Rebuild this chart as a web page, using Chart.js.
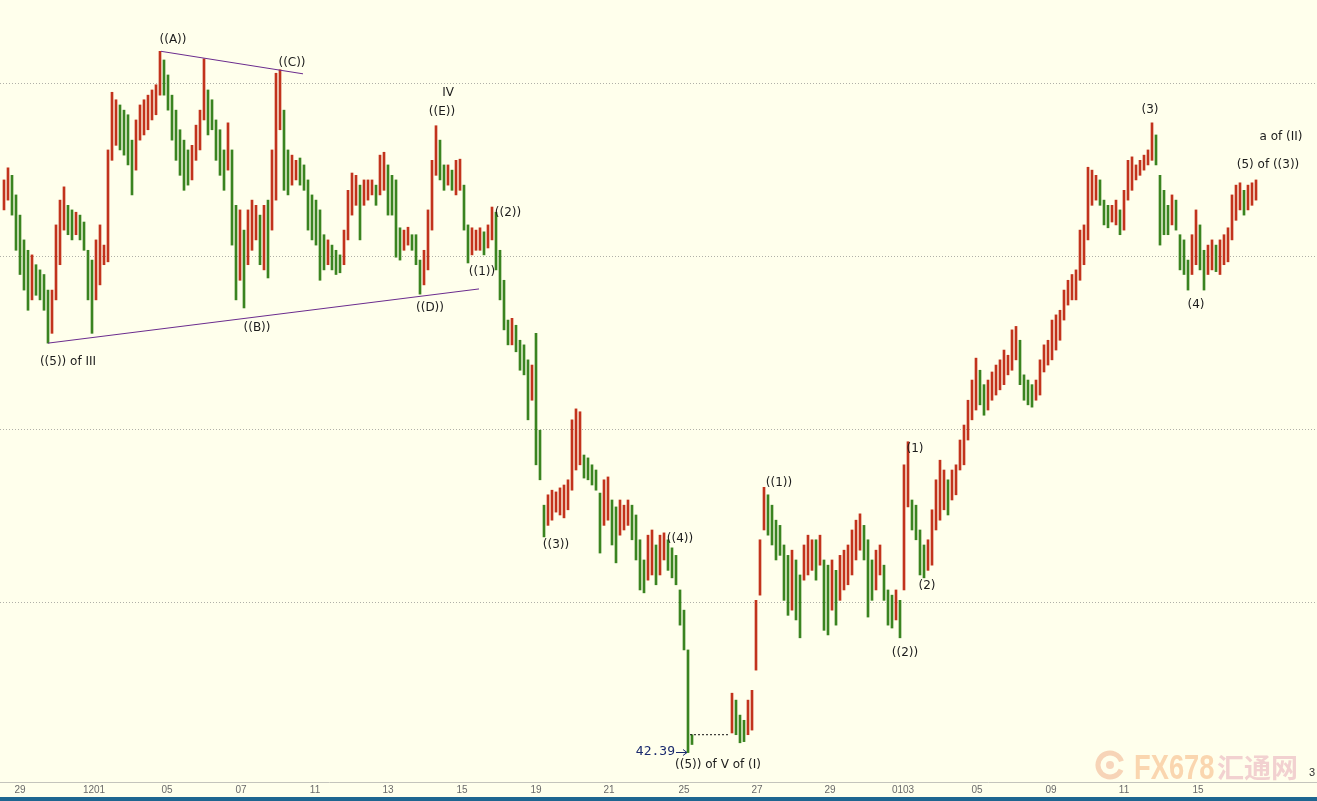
<!DOCTYPE html>
<html>
<head>
<meta charset="utf-8">
<script src="https://cdn.jsdelivr.net/npm/chart.js@4.4.1/dist/chart.umd.min.js"></script>
<style>
  body { margin: 0; background: #ffffec; }
  #box { width: 1317px; height: 801px; }
</style>
</head>
<body>
<div id="box"><canvas id="myChart" width="1317" height="801"></canvas></div>
<script>
// bar highs / lows, one bar per slot (null = no trading, Christmas gap)
let highs = [
    52.32, 52.53, 52.40, 52.06, 51.71, 51.28, 51.10, 51.02, 50.85, 50.76,
    50.68, 50.41, 50.41, 51.54, 51.97, 52.20, 51.88, 51.80, 51.76, 51.71,
    51.59, 51.10, 50.93, 51.28, 51.54, 51.19, 52.84, 53.84, 53.71, 53.62,
    53.53, 53.45, 53.01, 53.36, 53.62, 53.71, 53.79, 53.88, 53.97, 54.55,
    54.40, 54.14, 53.79, 53.53, 53.19, 53.01, 52.84, 52.92, 53.27, 53.53,
    54.42, 53.88, 53.71, 53.36, 53.19, 52.84, 53.31, 52.84, 51.88, 51.80,
    51.45, 51.80, 51.97, 51.88, 51.71, 51.88, 51.97, 52.84, 54.17, 54.23,
    53.53, 52.84, 52.75, 52.66, 52.70, 52.58, 52.32, 52.06, 51.97, 51.80,
    51.37, 51.28, 51.19, 51.10, 51.02, 51.45, 52.14, 52.44, 52.40, 52.23,
    52.32, 52.32, 52.32, 52.23, 52.75, 52.80, 52.58, 52.40, 52.32, 51.49,
    51.45, 51.50, 51.37, 51.37, 50.93, 51.10, 51.80, 52.66, 53.26, 53.01,
    52.58, 52.58, 52.49, 52.66, 52.68, 52.23, 51.54, 51.49, 51.45, 51.49,
    51.42, 51.54, 51.85, 51.76, 51.10, 50.58, 49.89, 49.92, 49.80, 49.54,
    49.46, 49.20, 49.11, 49.66, 47.98, 46.68, 46.86, 46.94, 46.91, 46.98,
    47.03, 47.12, 48.16, 48.35, 48.30, 47.55, 47.50, 47.38, 47.29, 46.89,
    47.12, 47.17, 46.77, 46.65, 46.77, 46.68, 46.77, 46.68, 46.51, 46.08,
    45.73, 46.16, 46.25, 45.99, 46.16, 46.20, 46.08, 45.94, 45.81, 45.21,
    44.86, 44.17, 42.70, null, null, null, null, null, null, null,
    null, null, 43.42, 43.30, 43.04, 42.95, 43.30, 43.47, 45.03, 46.08,
    46.99, 46.86, 46.68, 46.42, 46.33, 45.99, 45.81, 45.90, 45.73, 45.47,
    45.99, 46.16, 46.08, 46.08, 46.16, 45.73, 45.64, 45.73, 45.55, 45.81,
    45.90, 45.99, 46.25, 46.42, 46.53, 46.33, 46.08, 45.73, 45.90, 45.99,
    45.64, 45.21, 45.12, 45.21, 45.03, 47.38, 47.78, 46.77, 46.68, 46.25,
    45.99, 46.08, 46.60, 47.12, 47.46, 47.29, 47.12, 47.29, 47.38, 47.81,
    48.07, 48.50, 48.85, 49.23, 49.02, 48.77, 48.85, 48.99, 49.11, 49.20,
    49.37, 49.28, 49.72, 49.78, 49.54, 48.94, 48.85, 48.77, 48.85, 49.20,
    49.46, 49.54, 49.89, 49.98, 50.06, 50.41, 50.58, 50.68, 50.76, 51.45,
    51.54, 52.54, 52.49, 52.40, 52.32, 51.97, 51.88, 51.88, 51.97, 51.80,
    52.14, 52.66, 52.72, 52.58, 52.66, 52.75, 52.84, 53.31, 53.10, 52.40,
    52.14, 51.88, 52.06, 51.97, 51.37, 51.28, 50.93, 51.37, 51.80, 51.54,
    51.10, 51.19, 51.28, 51.19, 51.28, 51.37, 51.49, 52.06, 52.23, 52.27,
    52.14, 52.23, 52.27, 52.32
];
let lows = [
    51.80, 51.97, 51.71, 51.10, 50.68, 50.41, 50.06, 50.24, 50.32, 50.24,
    50.06, 49.49, 49.66, 50.24, 50.85, 51.45, 51.37, 51.28, 51.37, 51.28,
    51.10, 50.24, 49.66, 50.24, 50.50, 50.85, 50.90, 52.66, 52.92, 52.84,
    52.75, 52.58, 52.06, 52.49, 53.01, 53.10, 53.19, 53.36, 53.45, 53.79,
    53.79, 53.53, 53.01, 52.66, 52.40, 52.14, 52.23, 52.32, 52.66, 52.84,
    53.36, 53.10, 53.19, 52.66, 52.40, 52.14, 52.49, 51.19, 50.24, 50.58,
    50.10, 50.85, 51.10, 51.28, 50.85, 50.76, 50.62, 51.45, 51.97, 53.19,
    52.14, 52.06, 52.23, 52.32, 52.23, 52.14, 51.45, 51.28, 51.19, 50.58,
    50.76, 50.85, 50.76, 50.68, 50.71, 50.85, 51.28, 51.71, 51.88, 51.28,
    51.88, 51.97, 52.06, 51.88, 52.06, 52.14, 51.71, 51.71, 50.98, 50.93,
    51.10, 51.19, 51.10, 50.85, 50.34, 50.50, 50.76, 51.45, 52.40, 52.32,
    52.14, 52.23, 52.14, 52.06, 52.14, 51.45, 50.88, 51.02, 51.10, 51.10,
    51.02, 51.14, 51.28, 50.76, 50.24, 49.72, 49.46, 49.46, 49.34, 49.02,
    48.94, 48.16, 48.50, 47.38, 47.12, 46.13, 46.33, 46.42, 46.56, 46.51,
    46.46, 46.60, 46.94, 47.29, 47.38, 47.15, 47.12, 47.03, 46.94, 45.85,
    46.33, 46.42, 45.99, 45.68, 46.16, 46.25, 46.33, 46.08, 45.73, 45.21,
    45.16, 45.38, 45.47, 45.30, 45.47, 45.73, 45.55, 45.42, 45.30, 44.60,
    44.17, 42.39, 42.53, null, null, null, null, null, null, null,
    null, null, 42.73, 42.70, 42.56, 42.58, 42.70, 42.78, 43.82, 45.12,
    46.25, 46.16, 45.99, 45.73, 45.81, 45.03, 44.77, 44.86, 44.69, 44.38,
    45.38, 45.47, 45.55, 45.38, 45.64, 44.51, 44.43, 44.86, 44.60, 45.03,
    45.21, 45.30, 45.47, 45.73, 45.90, 45.73, 44.74, 45.03, 45.21, 45.47,
    45.03, 44.60, 44.55, 44.69, 44.38, 45.21, 46.65, 46.25, 46.08, 45.47,
    45.42, 45.55, 45.64, 46.25, 46.42, 46.60, 46.51, 46.77, 46.86, 47.29,
    47.38, 47.81, 48.16, 48.33, 48.42, 48.24, 48.33, 48.50, 48.59, 48.68,
    48.77, 48.94, 49.02, 49.20, 48.77, 48.50, 48.42, 48.38, 48.50, 48.59,
    48.99, 49.11, 49.20, 49.37, 49.54, 49.89, 50.15, 50.24, 50.24, 50.58,
    50.85, 51.28, 51.88, 51.97, 51.88, 51.54, 51.49, 51.59, 51.54, 51.37,
    51.45, 51.97, 52.14, 52.32, 52.40, 52.49, 52.58, 52.66, 52.58, 51.19,
    51.37, 51.37, 51.54, 51.45, 50.76, 50.68, 50.41, 50.68, 50.85, 50.76,
    50.41, 50.68, 50.76, 50.73, 50.68, 50.85, 50.90, 51.28, 51.62, 51.80,
    51.71, 51.80, 51.88, 51.97
];

// date labels on the time axis (slot positions)
let tickPos = [4, 22.5, 40.75, 59.25, 77.75, 96, 114.5, 133, 151.25, 170, 188.25, 206.5, 224.75, 243.25, 261.75, 280, 298.5];
let tickLabels = ['29', '1201', '05', '07', '11', '13', '15', '19', '21', '25', '27', '29', '0103', '05', '09', '11', '15'];
let gridVals = [45, 48, 51, 54];

// triangle lines ((A))-((C)) and ((5))-((D))
let upperLine = [{ x: 39.25, y: 54.55 }, { x: 74.75, y: 54.16 }];
let lowerLine = [{ x: 11, y: 49.49 }, { x: 118.75, y: 50.43 }];
let lowMark = [{ x: 171.5, y: 42.70 }, { x: 181.5, y: 42.70 }];

// wave labels
let annTexts = ['((A))', '((C))', '((5)) of III', '((B))', 'IV', '((E))', '((D))', '((1))', '((2))',
    '((3))', '((4))', '((5)) of V of (I)', '((1))', '((2))', '(1)', '(2)', '(3)', '(4)', 'a of (II)', '(5) of ((3))'];
let annX = [42.25, 72, 16, 63.25, 111, 109.5, 106.5, 119.5, 126,
    138, 169, 178.5, 193.75, 225.25, 227.75, 230.75, 286.5, 298, 319.25, 316];
let annY = [54.75, 54.35, 49.16, 49.75, 53.83, 53.50, 50.10, 50.72, 51.75,
    45.99, 46.09, 42.17, 47.07, 44.12, 47.65, 45.28, 53.53, 50.15, 53.06, 52.58];
let lowLabel = { text: '42.39', x: 171, y: 42.40 };

let barData = [];
let barColors = [];
let prevMid = null;
for (let i = 0; i < highs.length; i++) {
    if (highs[i] === null) continue;
    let mid = (highs[i] + lows[i]) / 2;
    let up = prevMid === null || mid >= prevMid;
    barColors.push(up ? '#c2331c' : '#3a8420');
    barData.push({ x: i, y: [lows[i], highs[i]] });
    prevMid = mid;
}

const labelsPlugin = {
    id: 'labels',
    beforeDraw(chart) {
        let ctx = chart.ctx;
        ctx.save();
        ctx.fillStyle = '#ffffec';
        ctx.fillRect(0, 0, chart.width, chart.height);
        ctx.restore();
    },
    afterDatasetsDraw(chart) {
        let ctx = chart.ctx;
        let xs = chart.scales.x, ys = chart.scales.y;
        ctx.save();
        ctx.font = '12px "DejaVu Sans", sans-serif';
        ctx.fillStyle = '#1c1c1c';
        ctx.textAlign = 'center';
        ctx.textBaseline = 'middle';
        for (let i = 0; i < annTexts.length; i++) {
            ctx.fillText(annTexts[i], xs.getPixelForValue(annX[i]), ys.getPixelForValue(annY[i]));
        }
        // 42.39 price mark with arrow
        let px = xs.getPixelForValue(lowLabel.x), py = ys.getPixelForValue(lowLabel.y);
        ctx.font = '13px "DejaVu Sans Mono", monospace';
        ctx.fillStyle = '#1a2a6e';
        ctx.strokeStyle = '#1a2a6e';
        ctx.textAlign = 'right';
        ctx.fillText(lowLabel.text, px - 13, py);
        ctx.lineWidth = 1;
        ctx.beginPath();
        ctx.moveTo(px - 12, py + 0.5);
        ctx.lineTo(px - 1, py + 0.5);
        ctx.moveTo(px - 5, py - 2.5);
        ctx.lineTo(px - 1, py + 0.5);
        ctx.lineTo(px - 5, py + 3.5);
        ctx.stroke();
        ctx.restore();
    },
    afterDraw(chart) {
        let ctx = chart.ctx;
        ctx.save();
        // watermark
        ctx.strokeStyle = 'rgba(240,170,130,0.5)';
        ctx.lineWidth = 5;
        ctx.beginPath();
        ctx.arc(1110, 765, 12, 0.4, Math.PI * 1.9);
        ctx.stroke();
        ctx.fillStyle = 'rgba(240,180,150,0.55)';
        ctx.beginPath();
        ctx.arc(1110, 765, 4, 0, Math.PI * 2);
        ctx.fill();
        ctx.textBaseline = 'alphabetic';
        ctx.textAlign = 'left';
        ctx.fillStyle = 'rgba(248,196,150,0.7)';
        ctx.translate(1134, 779);
        ctx.scale(0.78, 1);
        ctx.font = 'bold 35px "Liberation Sans", sans-serif';
        ctx.fillText('FX678', 0, 0);
        ctx.setTransform(1, 0, 0, 1, 0, 0);
        ctx.fillStyle = 'rgba(236,190,196,0.7)';
        ctx.font = 'bold 27px "Noto Sans CJK SC", sans-serif';
        ctx.fillText('汇通网', 1217, 778);
        ctx.fillStyle = '#333';
        ctx.font = '11px "Liberation Sans", sans-serif';
        ctx.fillText('3', 1309, 776);
        // bottom strip
        ctx.fillStyle = '#1e6690';
        ctx.fillRect(0, 797, chart.width, 4);
        ctx.restore();
    }
};

let myChart = new Chart('myChart', {
    type: 'bar',
    data: {
        datasets: [{
            type: 'bar',
            data: barData,
            backgroundColor: barColors,
            barThickness: 2,
            minBarLength: 1,
            borderWidth: 0,
            order: 3
        },
        {
            type: 'line',
            data: upperLine,
            borderColor: '#6b2c8e',
            borderWidth: 1,
            pointRadius: 0,
            order: 1
        },
        {
            type: 'line',
            data: lowerLine,
            borderColor: '#6b2c8e',
            borderWidth: 1,
            pointRadius: 0,
            order: 1
        },
        {
            type: 'line',
            data: lowMark,
            borderColor: '#111',
            borderWidth: 1,
            borderDash: [2, 2],
            pointRadius: 0,
            order: 1
        }]
    },
    options: {
        responsive: false,
        animation: false,
        devicePixelRatio: 1,
        layout: { padding: 0 },
        plugins: { legend: { display: false }, tooltip: { enabled: false } },
        scales: {
            x: {
                type: 'linear',
                min: -1,
                max: 328.25,
                offset: false,
                grid: { display: false, drawTicks: false },
                border: { display: true, color: '#c4c4bc', width: 1 },
                afterBuildTicks: function (scale) {
                    scale.ticks = tickPos.map(v => ({ value: v }));
                },
                afterFit: function (scale) { scale.height = 19; },
                ticks: {
                    autoSkip: false,
                    maxRotation: 0,
                    padding: 2,
                    color: '#6a6a6a',
                    font: { family: 'Liberation Sans', size: 10 },
                    callback: function (val, idx) { return tickLabels[idx]; }
                }
            },
            y: {
                min: 41.88,
                max: 55.44,
                grid: { color: '#b0b0a8', lineWidth: 1, drawTicks: false },
                border: { display: false, dash: [1, 2] },
                afterBuildTicks: function (scale) {
                    scale.ticks = gridVals.map(v => ({ value: v }));
                },
                afterFit: function (scale) { scale.width = 0; },
                ticks: { display: false }
            }
        }
    },
    plugins: [labelsPlugin]
});
</script>
</body>
</html>
